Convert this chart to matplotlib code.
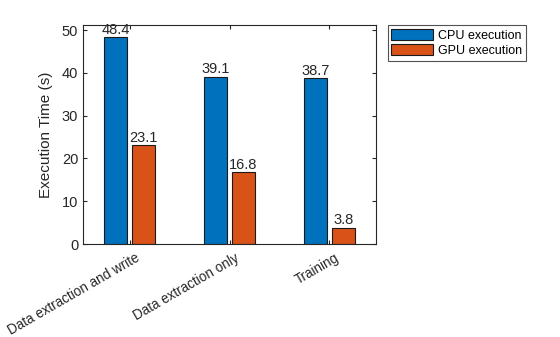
import numpy as np
import matplotlib.pyplot as plt
import matplotlib.transforms as mtransforms

categories = ['Data extraction and write', 'Data extraction only', 'Training']
cpu_time = [48.4, 39.1, 38.7]
gpu_time = [23.1, 16.8, 3.8]

plt.rcParams['font.family'] = ['Liberation Sans', 'DejaVu Sans']
fig = plt.figure(figsize=(5.6, 3.37), dpi=100)
ax = fig.add_axes([83 / 560, 1 - 244 / 337, 293 / 560, 219 / 337])

x = np.arange(1, len(categories) + 1)
w = 0.23
b1 = ax.bar(x - 0.14, cpu_time, w, color='#0072BD', edgecolor='#1a1a1a', linewidth=0.8, label='CPU execution')
b2 = ax.bar(x + 0.14, gpu_time, w, color='#D95319', edgecolor='#1a1a1a', linewidth=0.8, label='GPU execution')

for bars, vals in ((b1, cpu_time), (b2, gpu_time)):
    for r, v in zip(bars, vals):
        ax.text(r.get_x() + r.get_width() / 2, v + 0.1, f'{v}', ha='center', va='bottom',
                fontsize=10.5, color='#262626')

ax.set_xlim(0.53, 3.47)
ax.set_ylim(0, 51.2)
ax.set_yticks([0, 10, 20, 30, 40, 50])
ax.set_xticks(x)
ax.set_xticklabels(categories, rotation=30, ha='right', va='top', rotation_mode='anchor',
                   fontsize=9.75)
ax.tick_params(direction='in', top=True, right=True, colors='#262626', length=3)
ax.tick_params(axis='y', labelsize=10.5)
ax.tick_params(axis='x', pad=5)
# nudge rotated category labels to the right
shift = mtransforms.ScaledTranslation(5 / 100, 0, fig.dpi_scale_trans)
for lbl in ax.get_xticklabels():
    lbl.set_transform(lbl.get_transform() + shift)
ax.set_ylabel('Execution Time (s)', fontsize=11, color='#262626', labelpad=6)
for s in ax.spines.values():
    s.set_color('#262626')
    s.set_linewidth(0.8)

leg = ax.legend(loc='upper left', bbox_to_anchor=(1.04, 1.0), fontsize=9, frameon=True,
                fancybox=False, edgecolor='#262626', borderaxespad=0, handlelength=3.3,
                handleheight=1.0, labelspacing=0.2, borderpad=0.3, handletextpad=0.4)
leg.get_frame().set_linewidth(0.8)

fig.savefig('out.png', dpi=100)
